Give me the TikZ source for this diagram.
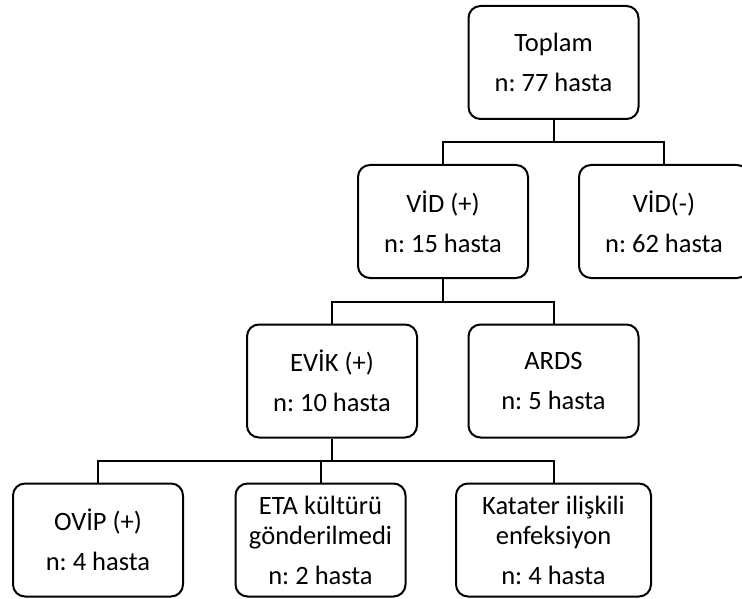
\documentclass[tikz,border=0pt]{standalone}
\usepackage{fontspec}
\setmainfont{Carlito}
\frenchspacing
\begin{document}
\begin{tikzpicture}[x=1pt,y=-1pt,
  box/.style={draw, line width=2pt, rounded corners=12pt, inner sep=0pt,
    minimum width=170pt, minimum height=113pt, align=center,
    font=\fontsize{26.5}{30}\selectfont},
  link/.style={line width=2pt}]
\useasboundingbox (0,0) rectangle (742,599);
\node[box] (top)  at (553.5,62.5) {Toplam\\[10pt]n: 77 hasta};
\node[box] (vidp) at (443,221.5) {VİD (+)\\[10pt]n: 15 hasta};
\node[box] (vidm) at (664,221.5) {VİD(-)\\[10pt]n: 62 hasta};
\node[box] (evik) at (332,381) {EVİK (+)\\[10pt]n: 10 hasta};
\node[box] (ards) at (553.5,381) {ARDS\\[10pt]n: 5 hasta};
\node[box] (ovip) at (98,540) {OVİP (+)\\[10pt]n: 4 hasta};
\node[box] (eta)  at (320.5,540) {ETA kültürü\\gönderilmedi\\[10pt]n: 2 hasta};
\node[box, minimum width=195pt] (kat) at (553.5,540) {Katater ilişkili\\enfeksiyon\\[10pt]n: 4 hasta};
\coordinate (bus1) at (553.5,142);
\coordinate (bus2) at (443,302);
\coordinate (bus3) at (332,461);
\draw[link] (top.south) -- (bus1);
\draw[link] (vidp.north) |- (bus1) -| (vidm.north);
\draw[link] (vidp.south) -- (bus2);
\draw[link] (evik.north) |- (bus2) -| (ards.north);
\draw[link] (evik.south) -- (bus3);
\draw[link] (ovip.north) |- (bus3) -| (kat.north);
\draw[link] (eta.north) -- (eta.north |- bus3);
\end{tikzpicture}
\end{document}
